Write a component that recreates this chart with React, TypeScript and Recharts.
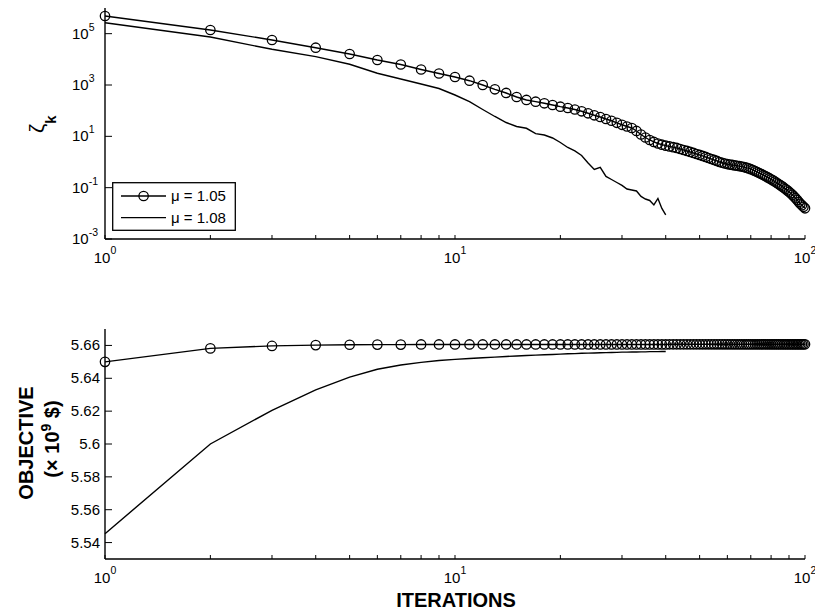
import React from 'react';
import { LineChart, Line, XAxis, YAxis, Legend, Customized } from 'recharts';

const FONT = '"Liberation Sans", Arial, Helvetica, sans-serif';

// ---------- data ----------
const iterations = Array.from({ length: 100 }, (_, i) => i + 1);

const zetaMu105 = [
  4.88e5, 1.39e5, 5.67e4, 2.84e4, 1.61e4, 9.42e3, 6.29e3, 4.02e3, 2.81e3, 2.05e3,
  1.47e3, 1.0e3, 680, 489, 341, 261, 224, 194, 166, 143,
  127, 111, 94.6, 79.1, 66.1, 56.7, 47.4, 40.4, 33.7, 28.2,
  24.2, 21.1, 16.2, 11.8, 9.02, 7.21, 6.03, 5.26, 4.73, 4.32,
  4.03, 3.78, 3.52, 3.21, 2.94, 2.69, 2.46, 2.25, 2.05, 1.88,
  1.72, 1.57, 1.43, 1.31, 1.2, 1.1, 1.0, 0.933, 0.875, 0.83,
  0.793, 0.766, 0.738, 0.713, 0.687, 0.663, 0.634, 0.601, 0.564, 0.525,
  0.484, 0.447, 0.408, 0.373, 0.341, 0.312, 0.285, 0.258, 0.234, 0.212,
  0.192, 0.173, 0.155, 0.139, 0.125, 0.112, 0.1, 0.0889, 0.0784, 0.0692,
  0.0604, 0.0528, 0.0454, 0.0389, 0.0331, 0.0277, 0.0236, 0.0206, 0.018, 0.0157,
];

const zetaMu108 = [
  2.67e5, 7.41e4, 2.46e4, 1.27e4, 6.41e3, 2.86e3, 1.71e3, 1.09e3, 731, 408,
  224, 111, 59.3, 34.6, 24.2, 20.6, 12.7, 11.3, 8.63, 5.75,
  3.68, 2.69, 1.79, 0.916, 0.512, 0.622, 0.273, 0.208, 0.159, 0.122,
  0.0889, 0.0813, 0.0743, 0.0454, 0.0362, 0.0317, 0.0212, 0.0379, 0.0155, 0.00863,
];

const objMu105 = [
  5.65, 5.6582, 5.6597, 5.6602, 5.6604, 5.6605, 5.6605, 5.6606, 5.6606, 5.6606,
  5.6606, 5.6606, 5.6606, 5.6606, 5.6606, 5.6606, 5.6606, 5.6606, 5.6606, 5.6606,
  5.6606, 5.6606, 5.6606, 5.6606, 5.6606, 5.6606, 5.6606, 5.6606, 5.6606, 5.6606,
  5.6606, 5.6606, 5.6606, 5.6606, 5.6606, 5.6606, 5.6606, 5.6606, 5.6606, 5.6606,
  5.6607, 5.6607, 5.6607, 5.6607, 5.6607, 5.6607, 5.6607, 5.6607, 5.6607, 5.6607,
  5.6607, 5.6607, 5.6607, 5.6607, 5.6607, 5.6607, 5.6607, 5.6607, 5.6607, 5.6607,
  5.6607, 5.6607, 5.6607, 5.6607, 5.6607, 5.6607, 5.6607, 5.6607, 5.6607, 5.6607,
  5.6607, 5.6607, 5.6607, 5.6607, 5.6607, 5.6607, 5.6607, 5.6607, 5.6607, 5.6607,
  5.6607, 5.6607, 5.6607, 5.6607, 5.6607, 5.6607, 5.6607, 5.6607, 5.6607, 5.6607,
  5.6607, 5.6607, 5.6607, 5.6607, 5.6607, 5.6607, 5.6607, 5.6607, 5.6607, 5.6607,
];

const objMu108 = [
  5.5454, 5.6, 5.6205, 5.633, 5.6407, 5.6455, 5.6481, 5.6497, 5.6508, 5.6515,
  5.652, 5.6525, 5.6529, 5.6533, 5.6536, 5.6539, 5.6541, 5.6543, 5.6545, 5.6547,
  5.6549, 5.655, 5.6552, 5.6553, 5.6554, 5.6555, 5.6556, 5.6557, 5.6558, 5.6559,
  5.6559, 5.656, 5.656, 5.6561, 5.6561, 5.6562, 5.6562, 5.6562, 5.6563, 5.6563,
];

const xTicks = [1, 2, 3, 4, 5, 6, 7, 8, 9, 10, 20, 30, 40, 50, 60, 70, 80, 90, 100];
const zetaTicks = [1e-3, 1e-1, 1e1, 1e3, 1e5];
const objTicks = [5.54, 5.56, 5.58, 5.6, 5.62, 5.64, 5.66];
const seriesNames = ['\u03bc = 1.05', '\u03bc = 1.08'];

const d105 = iterations.map((x, i) => ({ x, z: zetaMu105[i], o: objMu105[i] }));
const d108 = iterations.slice(0, zetaMu108.length).map((x, i) => ({ x, z: zetaMu108[i], o: objMu108[i] }));

// ---------- styles ----------
const AXIS = { stroke: '#000', strokeWidth: 1.4 };
const LINE_W = 1.4;
const DOT = { r: 4.7, fill: 'none', stroke: '#000', strokeWidth: 1.3 };

const powInfo = (v: number) => {
  const e = Math.round(Math.log10(v));
  return { e, major: Math.abs(Math.pow(10, e) - v) < 1e-9 * Math.max(1, v) };
};

const XTick = (props: any) => {
  const { x, y, payload, showLabel, top } = props;
  const { e, major } = powInfo(payload.value);
  return (
    <g>
      <line x1={x} y1={y} x2={x} y2={top ? y + 4 : y - 4} stroke="#000" strokeWidth={1} />
      {showLabel && major && (
        <text x={x} y={y + 24} textAnchor="middle" fontSize={15} fontFamily={FONT} fill="#000">
          10<tspan dy={-9} fontSize={10.5}>{String(e)}</tspan>
        </text>
      )}
    </g>
  );
};

const YTickLog = (props: any) => {
  const { x, y, payload, right } = props;
  const { e } = powInfo(payload.value);
  return (
    <g>
      <line x1={x} y1={y} x2={right ? x - 7 : x + 7} y2={y} stroke="#000" strokeWidth={1} />
      {!right && (
        <text x={x - 33} y={y + 5} textAnchor="start" fontSize={15} fontFamily={FONT} fill="#000">
          10<tspan dy={-8} fontSize={10.5}>{String(e)}</tspan>
        </text>
      )}
    </g>
  );
};

const YTickLin = (props: any) => {
  const { x, y, payload, right } = props;
  const label = String(Number(Number(payload.value).toFixed(2)));
  return (
    <g>
      <line x1={x} y1={y} x2={right ? x - 7 : x + 7} y2={y} stroke="#000" strokeWidth={1} />
      {!right && (
        <text x={x - 5} y={y + 5} textAnchor="end" fontSize={15} fontFamily={FONT} fill="#000">
          {label}
        </text>
      )}
    </g>
  );
};

const LegendBox = () => (
  <svg width={124} height={49} style={{ display: 'block' }}>
    <rect x={0.7} y={0.7} width={122.6} height={47.6} fill="#fff" stroke="#000" strokeWidth={1.3} />
    <line x1={9} y1={14} x2={54} y2={14} stroke="#000" strokeWidth={LINE_W} />
    <circle cx={31.6} cy={14} r={4.7} fill="none" stroke="#000" strokeWidth={1.3} />
    <text x={59} y={19} fontSize={15} fontFamily={FONT} fill="#000">{seriesNames[0]}</text>
    <line x1={9} y1={35.6} x2={54} y2={35.6} stroke="#000" strokeWidth={LINE_W} />
    <text x={59} y={40.6} fontSize={15} fontFamily={FONT} fill="#000">{seriesNames[1]}</text>
  </svg>
);

const TopLabels = () => (
  <text transform="translate(44,133) rotate(-90)" fontSize={21} fontFamily={FONT} fill="#000">
    {'\u03b6'}
    <tspan dy={12} fontWeight="bold" fontSize={15}>k</tspan>
  </text>
);

const BottomLabels = () => (
  <g fontFamily={FONT} fontWeight="bold" fill="#000">
    <text transform="translate(33,143) rotate(-90)" textAnchor="middle" fontSize={20}>OBJECTIVE</text>
    <text transform="translate(59,139) rotate(-90)" textAnchor="middle" fontSize={20}>
      ({'\u00d7'} 10<tspan dy={-8} fontSize={14}>9</tspan>
      <tspan dy={8}>  $)</tspan>
    </text>
    <text x={456} y={307} textAnchor="middle" fontSize={20}>ITERATIONS</text>
  </g>
);

const commonX = {
  dataKey: 'x',
  type: 'number' as const,
  scale: 'log' as const,
  domain: [1, 100],
  ticks: xTicks,
  interval: 0 as const,
  tickSize: 0,
  tickMargin: 0,
  tickLine: false,
  axisLine: AXIS,
};

export default function App() {
  return (
    <div style={{ position: 'absolute', left: 0, top: 0, width: 815, height: 611, background: '#fff', fontFamily: FONT }}>
      <div style={{ position: 'absolute', left: 0, top: 0 }}>
        <LineChart width={815} height={300} margin={{ top: 8, right: 10, bottom: 0, left: 0 }}>
          <XAxis xAxisId={0} {...commonX} height={61} tick={<XTick showLabel />} />
          <XAxis xAxisId="top" orientation="top" {...commonX} height={0} tick={<XTick top />} />
          <YAxis yAxisId={0} type="number" scale="log" domain={[1e-3, 1e6]} ticks={zetaTicks} interval={0}
            width={105} tickSize={0} tickMargin={0} tickLine={false} axisLine={AXIS} tick={<YTickLog />} />
          <YAxis yAxisId="right" orientation="right" type="number" scale="log" domain={[1e-3, 1e6]} ticks={zetaTicks} interval={0}
            width={0} tickSize={0} tickMargin={0} tickLine={false} axisLine={AXIS} tick={<YTickLog right />} />
          <Line data={d108} dataKey="z" name={seriesNames[1]} type="linear" stroke="#000" strokeWidth={LINE_W}
            dot={false} activeDot={false} isAnimationActive={false} />
          <Line data={d105} dataKey="z" name={seriesNames[0]} type="linear" stroke="#000" strokeWidth={LINE_W}
            dot={DOT} activeDot={false} isAnimationActive={false} />
          <Legend layout="horizontal" verticalAlign="middle" align="center" content={() => <LegendBox />}
            wrapperStyle={{ position: 'absolute', left: 112, top: 182, width: 124, height: 49, margin: 0, padding: 0 }} />
          <Customized component={TopLabels} />
        </LineChart>
      </div>
      <div style={{ position: 'absolute', left: 0, top: 300 }}>
        <LineChart width={815} height={311} margin={{ top: 29, right: 10, bottom: 0, left: 0 }}>
          <XAxis xAxisId={0} {...commonX} height={52} tick={<XTick showLabel />} />
          <XAxis xAxisId="top" orientation="top" {...commonX} height={0} tick={<XTick top />} />
          <YAxis yAxisId={0} type="number" domain={[5.53, 5.67]} ticks={objTicks} interval={0}
            width={105} tickSize={0} tickMargin={0} tickLine={false} axisLine={AXIS} tick={<YTickLin />} />
          <YAxis yAxisId="right" orientation="right" type="number" domain={[5.53, 5.67]} ticks={objTicks} interval={0}
            width={0} tickSize={0} tickMargin={0} tickLine={false} axisLine={AXIS} tick={<YTickLin right />} />
          <Line data={d108} dataKey="o" name={seriesNames[1]} type="linear" stroke="#000" strokeWidth={LINE_W}
            dot={false} activeDot={false} isAnimationActive={false} />
          <Line data={d105} dataKey="o" name={seriesNames[0]} type="linear" stroke="#000" strokeWidth={LINE_W}
            dot={DOT} activeDot={false} isAnimationActive={false} />
          <Customized component={BottomLabels} />
        </LineChart>
      </div>
    </div>
  );
}
